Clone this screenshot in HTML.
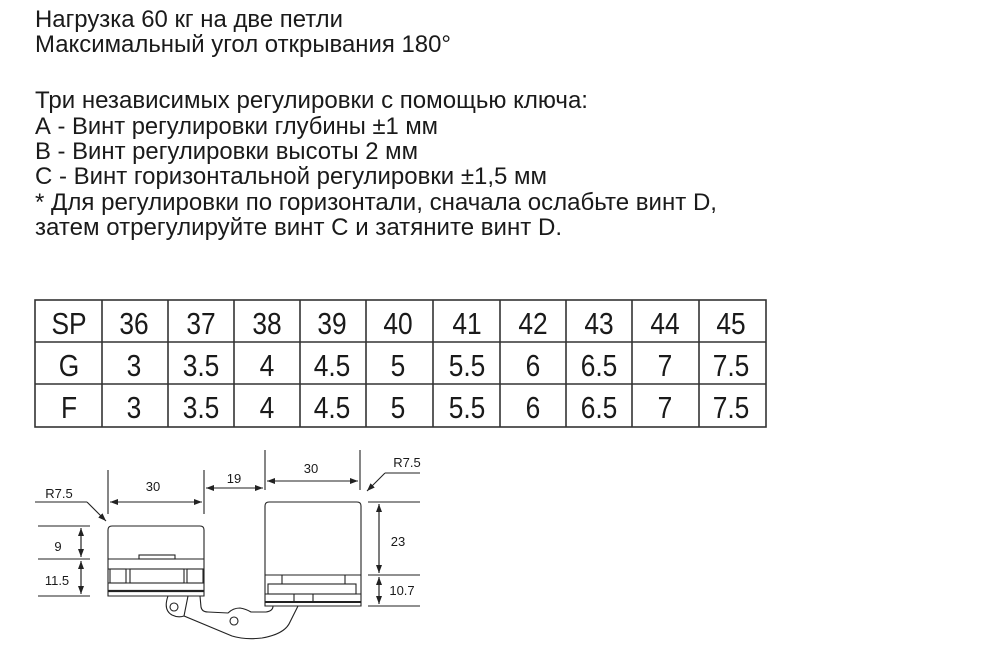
<!DOCTYPE html>
<html><head><meta charset="utf-8"><style>
html,body{margin:0;padding:0;background:#fff;}
svg{display:block;}
text{font-family:"Liberation Sans",Arial,sans-serif;fill:#1a1a1a;}
</style></head><body>
<svg width="1000" height="649" viewBox="0 0 1000 649" xmlns="http://www.w3.org/2000/svg">
<g font-size="24">
<text x="35" y="27" textLength="308" lengthAdjust="spacingAndGlyphs">Нагрузка 60 кг на две петли</text>
<text x="35" y="52" textLength="416" lengthAdjust="spacingAndGlyphs">Максимальный угол открывания 180°</text>
<text x="35" y="108" textLength="553" lengthAdjust="spacingAndGlyphs">Три независимых регулировки с помощью ключа:</text>
<text x="35" y="134" textLength="403" lengthAdjust="spacingAndGlyphs">А - Винт регулировки глубины ±1 мм</text>
<text x="35" y="159" textLength="383" lengthAdjust="spacingAndGlyphs">В - Винт регулировки высоты 2 мм</text>
<text x="35" y="184" textLength="512" lengthAdjust="spacingAndGlyphs">С - Винт горизонтальной регулировки ±1,5 мм</text>
<text x="35" y="210" textLength="682" lengthAdjust="spacingAndGlyphs">* Для регулировки по горизонтали, сначала ослабьте винт D,</text>
<text x="35" y="235" textLength="527" lengthAdjust="spacingAndGlyphs">затем отрегулируйте винт С и затяните винт D.</text>
</g>
<!-- table -->
<g stroke="#333" stroke-width="1.6" fill="none">
<rect x="35" y="300" width="731" height="127"/>
<line x1="35" y1="342" x2="766" y2="342"/>
<line x1="35" y1="384" x2="766" y2="384"/>
<line x1="102" y1="300" x2="102" y2="427"/>
<line x1="168" y1="300" x2="168" y2="427"/>
<line x1="234" y1="300" x2="234" y2="427"/>
<line x1="300" y1="300" x2="300" y2="427"/>
<line x1="366" y1="300" x2="366" y2="427"/>
<line x1="433" y1="300" x2="433" y2="427"/>
<line x1="500" y1="300" x2="500" y2="427"/>
<line x1="566" y1="300" x2="566" y2="427"/>
<line x1="632" y1="300" x2="632" y2="427"/>
<line x1="699" y1="300" x2="699" y2="427"/>
</g>
<g font-size="31" text-anchor="middle">
<text transform="translate(69,334) scale(0.85,1)">SP</text>
<text transform="translate(134,334) scale(0.85,1)">36</text><text transform="translate(201,334) scale(0.85,1)">37</text><text transform="translate(267,334) scale(0.85,1)">38</text><text transform="translate(332,334) scale(0.85,1)">39</text><text transform="translate(398,334) scale(0.85,1)">40</text><text transform="translate(467,334) scale(0.85,1)">41</text><text transform="translate(533,334) scale(0.85,1)">42</text><text transform="translate(599,334) scale(0.85,1)">43</text><text transform="translate(665,334) scale(0.85,1)">44</text><text transform="translate(731,334) scale(0.85,1)">45</text>
<text transform="translate(69,376) scale(0.85,1)">G</text>
<text transform="translate(134,376) scale(0.85,1)">3</text><text transform="translate(201,376) scale(0.85,1)">3.5</text><text transform="translate(267,376) scale(0.85,1)">4</text><text transform="translate(332,376) scale(0.85,1)">4.5</text><text transform="translate(398,376) scale(0.85,1)">5</text><text transform="translate(467,376) scale(0.85,1)">5.5</text><text transform="translate(533,376) scale(0.85,1)">6</text><text transform="translate(599,376) scale(0.85,1)">6.5</text><text transform="translate(665,376) scale(0.85,1)">7</text><text transform="translate(731,376) scale(0.85,1)">7.5</text>
<text transform="translate(69,418) scale(0.85,1)">F</text>
<text transform="translate(134,418) scale(0.85,1)">3</text><text transform="translate(201,418) scale(0.85,1)">3.5</text><text transform="translate(267,418) scale(0.85,1)">4</text><text transform="translate(332,418) scale(0.85,1)">4.5</text><text transform="translate(398,418) scale(0.85,1)">5</text><text transform="translate(467,418) scale(0.85,1)">5.5</text><text transform="translate(533,418) scale(0.85,1)">6</text><text transform="translate(599,418) scale(0.85,1)">6.5</text><text transform="translate(665,418) scale(0.85,1)">7</text><text transform="translate(731,418) scale(0.85,1)">7.5</text>
</g>
<!-- drawing -->
<defs><marker id="a" markerWidth="8" markerHeight="6" refX="8" refY="3" orient="auto" markerUnits="userSpaceOnUse"><path d="M0,0 L8,3 L0,6 Z" fill="#222"/></marker></defs>
<g stroke="#222" stroke-width="1.1" fill="none">
<line x1="108" y1="470" x2="108" y2="514"/>
<line x1="204" y1="470" x2="204" y2="514"/>
<line x1="265" y1="450" x2="265" y2="490"/>
<line x1="360" y1="450" x2="360" y2="490"/>
<line x1="110" y1="502" x2="202" y2="502" marker-end="url(#a)"/>
<line x1="202" y1="502" x2="110" y2="502" marker-end="url(#a)"/>
<line x1="206" y1="488" x2="263" y2="488" marker-end="url(#a)"/>
<line x1="263" y1="488" x2="206" y2="488" marker-end="url(#a)"/>
<line x1="267" y1="481" x2="358" y2="481" marker-end="url(#a)"/>
<line x1="358" y1="481" x2="267" y2="481" marker-end="url(#a)"/>
<line x1="35" y1="502" x2="87" y2="502"/>
<line x1="87" y1="502" x2="106" y2="521" marker-end="url(#a)"/>
<line x1="420" y1="473" x2="385" y2="473"/>
<line x1="385" y1="473" x2="367" y2="491" marker-end="url(#a)"/>
<line x1="38" y1="526" x2="90" y2="526"/>
<line x1="38" y1="559" x2="90" y2="559"/>
<line x1="38" y1="596" x2="90" y2="596"/>
<line x1="81" y1="528" x2="81" y2="557" marker-end="url(#a)"/>
<line x1="81" y1="557" x2="81" y2="528" marker-end="url(#a)"/>
<line x1="81" y1="561" x2="81" y2="594" marker-end="url(#a)"/>
<line x1="81" y1="594" x2="81" y2="561" marker-end="url(#a)"/>
<line x1="368" y1="502" x2="420" y2="502"/>
<line x1="368" y1="575" x2="420" y2="575"/>
<line x1="368" y1="606" x2="420" y2="606"/>
<line x1="379" y1="504" x2="379" y2="573" marker-end="url(#a)"/>
<line x1="379" y1="573" x2="379" y2="504" marker-end="url(#a)"/>
<line x1="379" y1="577" x2="379" y2="604" marker-end="url(#a)"/>
<line x1="379" y1="604" x2="379" y2="577" marker-end="url(#a)"/>
<path d="M108,596 L108,530 Q108,526 112,526 L200,526 Q204,526 204,530 L204,596 Z"/>
<path d="M108,559 L204,559"/>
<rect x="139" y="555" width="36" height="4"/>
<line x1="108" y1="569" x2="204" y2="569"/>
<rect x="110" y="569" width="16" height="14"/>
<rect x="130" y="569" width="54" height="14"/>
<rect x="187" y="569" width="16" height="14"/>
<line x1="108" y1="583" x2="204" y2="583"/>
<line x1="108" y1="591" x2="204" y2="591" stroke-width="2.2"/>
<path d="M265,606 L265,506 Q265,502 269,502 L357,502 Q361,502 361,506 L361,606 Z"/>
<line x1="265" y1="575" x2="361" y2="575"/>
<line x1="282" y1="575" x2="282" y2="584"/>
<line x1="345" y1="575" x2="345" y2="584"/>
<rect x="268" y="584" width="88" height="10"/>
<line x1="265" y1="594" x2="361" y2="594"/>
<line x1="294" y1="594" x2="294" y2="602"/>
<line x1="313" y1="594" x2="313" y2="602"/>
<line x1="265" y1="602" x2="361" y2="602" stroke-width="2"/>
<path d="M168,596 Q163,610 172,615 Q178,618 184,616 L232,636 Q245,640 262,638 Q285,634 290,622 L298,606"/>
<path d="M188,596 L184,616"/>
<path d="M200,596 L201,607 Q202,612 208,612 L228,613 Q233,608 240,608 Q246,609 251,612 L266,612 Q273,611 273,606"/>
<circle cx="174" cy="607" r="4"/>
<circle cx="234" cy="621" r="4"/>
</g>
<g font-size="13" text-anchor="middle">
<text x="153" y="491">30</text>
<text x="234" y="483">19</text>
<text x="311" y="473">30</text>
<text x="59" y="498">R7.5</text>
<text x="407" y="467">R7.5</text>
<text x="58" y="551">9</text>
<text x="57" y="585">11.5</text>
<text x="398" y="546">23</text>
<text x="402" y="595">10.7</text>
</g>
</svg>
</body></html>
